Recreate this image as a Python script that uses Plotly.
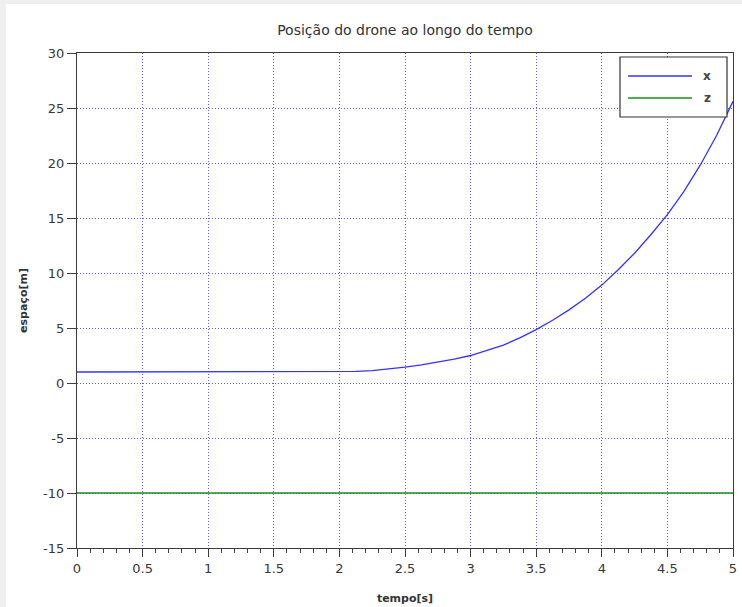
import plotly.graph_objects as go

# Drone position samples (time in seconds, position in metres)
tempo = [0.0, 0.5, 1.0, 1.5, 2.0,
         2.125, 2.25, 2.375, 2.5, 2.625, 2.75, 2.875, 3.0,
         3.125, 3.25, 3.375, 3.5, 3.625, 3.75, 3.875, 4.0,
         4.125, 4.25, 4.375, 4.5, 4.625, 4.75, 4.875, 5.0]
pos_x = [1.0, 1.0, 1.0, 1.0, 1.0,
         1.05, 1.12, 1.27, 1.45, 1.65, 1.9, 2.18, 2.5,
         2.95, 3.45, 4.1, 4.85, 5.7, 6.65, 7.7, 8.9,
         10.3, 11.8, 13.5, 15.3, 17.4, 19.8, 22.5, 25.6]
pos_z = [-10.0] * len(tempo)

series_names = ["x", "z"]
series_colors = ["#3333ff", "#1a8f1a"]

x_ticks = [0, 0.5, 1, 1.5, 2, 2.5, 3, 3.5, 4, 4.5, 5]
x_tick_text = ["0", "0.5", "1", "1.5", "2", "2.5", "3", "3.5", "4", "4.5", "5"]
y_ticks = [-15, -10, -5, 0, 5, 10, 15, 20, 25, 30]
y_tick_text = ["-15", "-10", "-5", "0", "5", "10", "15", "20", "25", "30"]

TXT = "#383838"
AX = "#3c3c3c"
GRID = "#5c5cff"
FONT = "DejaVu Sans"

fig = go.Figure()
for name, ys, col in zip(series_names, [pos_x, pos_z], series_colors):
    fig.add_trace(go.Scatter(x=tempo, y=ys, mode="lines", name=name,
                             line=dict(color=col, width=1.3),
                             showlegend=False))

# pixel -> paper coordinate helpers
L, R, T, B = 77, 9, 53, 59
W, H = 742, 607
pw, ph = W - L - R, H - T - B
def px_x(p):
    return (p - L) / pw
def px_y(p):
    return (H - B - p) / ph

# window frame: thin grey strips along the left and top edges
fig.add_shape(type="rect", xref="paper", yref="paper",
              x0=px_x(0), x1=px_x(W), y0=px_y(0), y1=px_y(4),
              fillcolor="#efefef", line_width=0, layer="below")
fig.add_shape(type="rect", xref="paper", yref="paper",
              x0=px_x(0), x1=px_x(6), y0=px_y(0), y1=px_y(H),
              fillcolor="#efefef", line_width=0, layer="below")

# boxed legend in the upper right corner
fig.add_shape(type="rect", xref="paper", yref="paper",
              x0=px_x(620), x1=px_x(727), y0=px_y(117), y1=px_y(57),
              fillcolor="white", line=dict(color="#333333", width=1.2),
              layer="above")
for i, (name, col) in enumerate(zip(series_names, series_colors)):
    yy = px_y(76 + 22 * i)
    fig.add_shape(type="line", xref="paper", yref="paper",
                  x0=px_x(628), x1=px_x(692), y0=yy, y1=yy,
                  line=dict(color=col, width=1.3), layer="above")
    fig.add_annotation(xref="paper", yref="paper", x=px_x(707), y=yy,
                       text=f"<b>{name}</b>", showarrow=False,
                       xanchor="center", yanchor="middle",
                       font=dict(family=FONT, size=12, color="#444444"))

fig.update_layout(
    width=W, height=H,
    margin=dict(l=L, r=R, t=T, b=B, pad=0, autoexpand=False),
    paper_bgcolor="white", plot_bgcolor="white",
    font=dict(family=FONT, size=13, color=TXT),
    title=dict(text="Posição do drone ao longo do tempo",
               x=px_x(405), xanchor="center", xref="paper",
               y=1 - 30 / H, yanchor="middle",
               font=dict(family=FONT, size=14, color="#333333")),
    showlegend=False,
)

fig.update_xaxes(
    range=[0, 5], tickvals=x_ticks, ticktext=x_tick_text,
    automargin=False,
    showgrid=True, gridcolor=GRID, griddash="1px,2px", gridwidth=1,
    zeroline=False, showline=True, linecolor=AX, linewidth=1.2, mirror=True,
    ticks="outside", ticklen=8, tickcolor=AX, tickwidth=1.2,
    minor=dict(dtick=0.1, ticks="outside", ticklen=4, tickcolor=AX,
               tickwidth=1, showgrid=False),
    tickfont=dict(family=FONT, size=13, color=TXT),
    title=dict(text="<b>tempo[s]</b>", standoff=19,
               font=dict(family=FONT, size=11, color="#333333")),
)
fig.update_yaxes(
    range=[-15, 30], tickvals=y_ticks, ticktext=y_tick_text,
    automargin=False,
    showgrid=True, gridcolor=GRID, griddash="1px,2px", gridwidth=1,
    zeroline=False, showline=True, linecolor=AX, linewidth=1.2, mirror=True,
    ticks="outside", ticklen=9, tickcolor=AX, tickwidth=1.2,
    tickfont=dict(family=FONT, size=13, color=TXT),
    title=dict(text="<b>espaço[m]</b>", standoff=13,
               font=dict(family=FONT, size=11, color="#333333")),
)

fig.write_html("out.html")
